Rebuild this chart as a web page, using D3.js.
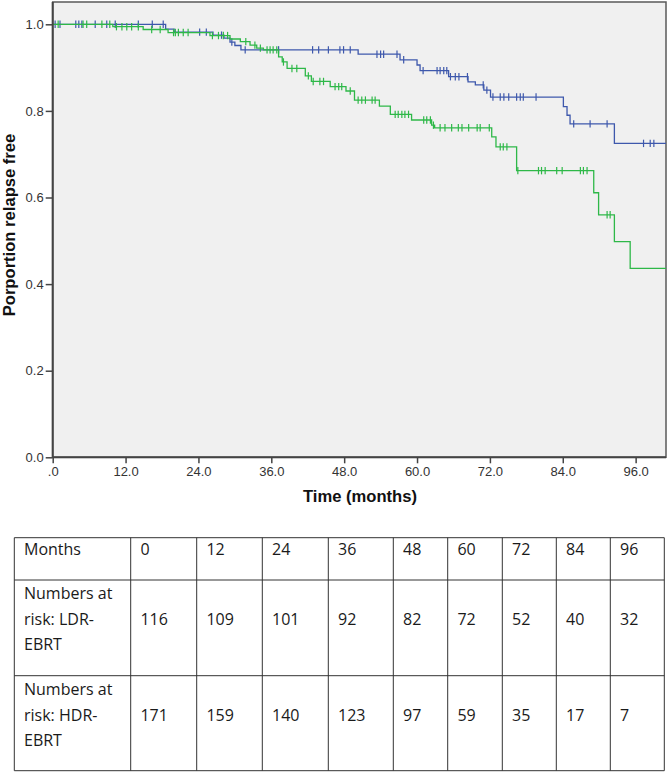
<!DOCTYPE html>
<html>
<head>
<meta charset="utf-8">
<script src="https://cdn.jsdelivr.net/npm/d3@7"></script>
<style>
  html, body { margin: 0; padding: 0; background: #fff; }
  svg { display: block; }
</style>
</head>
<body>
<div id="chart"></div>
<script>
// ---------------- DATA ----------------
// Kaplan-Meier step events (time in months, survival after the drop)
const ldrEventTimes = [18.6, 20.0, 26.4, 28.2, 29.2, 30.0, 31.0, 50.3, 57.2, 60.0, 60.5, 65.2, 68.4, 69.6, 71.0, 72.1, 84.1, 84.7, 85.2, 92.5];
const ldrEventSurv  = [0.989, 0.982, 0.975, 0.968, 0.959, 0.951, 0.941, 0.931, 0.918, 0.906, 0.893, 0.879, 0.867, 0.860, 0.848, 0.832, 0.810, 0.790, 0.770, 0.725];
const ldrCensored   = [0.4, 1.2, 3.8, 4.3, 4.8, 7.0, 8.9, 10.3, 14.1, 16.4, 18.2, 24.2, 25.3, 27.8, 29.5, 31.7,
                       37.2, 42.8, 43.8, 45.4, 47.3, 47.9, 49.0, 53.4, 54.0, 54.5, 56.7, 57.8,
                       61.0, 63.3, 63.8, 64.4, 64.9, 65.5, 66.3, 66.9, 68.3, 70.9, 71.5,
                       72.5, 73.7, 74.3, 75.1, 76.4, 77.0, 77.5, 79.6, 85.8, 88.5, 91.3, 97.3, 98.4, 99.0];

const hdrEventTimes = [9.9, 14.9, 19.0, 25.9, 29.2, 30.9, 32.5, 33.6, 34.7, 37.2, 37.8, 38.6, 41.6, 42.6, 45.7, 48.3, 49.7, 53.8, 55.6, 59.1, 62.4, 62.9, 72.3, 73.0, 76.4, 89.1, 89.9, 92.5, 95.1];
const hdrEventSurv  = [0.9945, 0.988, 0.981, 0.974, 0.966, 0.960, 0.952, 0.945, 0.941, 0.925, 0.913, 0.898, 0.881, 0.868, 0.856, 0.846, 0.825, 0.811, 0.792, 0.779, 0.767, 0.761, 0.740, 0.717, 0.662, 0.611, 0.560, 0.498, 0.4365];
const hdrCensored   = [0.9, 5.0, 5.6, 8.1, 9.4, 10.5, 11.4, 12.2, 13.0, 14.1, 16.3, 17.7, 19.9, 20.2, 20.7, 21.5, 22.3,
                       26.3, 27.3, 28.1, 28.8, 31.8, 33.3, 34.2, 35.3, 35.8, 36.3, 36.9, 38.0, 39.4, 40.2,
                       42.1, 42.9, 44.0, 44.6, 46.5, 47.1, 47.6, 49.0, 50.3, 50.9, 51.5, 52.6, 53.1,
                       56.4, 56.9, 57.5, 58.0, 58.6, 61.1, 61.6, 62.2, 62.7, 63.8, 64.6, 65.7, 66.8, 67.4, 68.5, 69.9, 70.4, 71.9,
                       73.7, 74.2, 74.8, 76.6, 80.0, 80.5, 81.1, 83.0, 83.9, 86.9, 87.4, 88.0, 91.3, 91.8];

const xTickValues = [0, 12, 24, 36, 48, 60, 72, 84, 96];
const yTickValues = [0, 0.2, 0.4, 0.6, 0.8, 1.0];
const xMax = 101;

const xTitle = "Time (months)";
const yTitle = "Porportion relapse free";

// At-risk table
const tableMonths = [0, 12, 24, 36, 48, 60, 72, 84, 96];
const ldrAtRisk = [116, 109, 101, 92, 82, 72, 52, 40, 32];
const hdrAtRisk = [171, 159, 140, 123, 97, 59, 35, 17, 7];
const rowHeaders = [["Months"], ["Numbers at", "risk: LDR-", "EBRT"], ["Numbers at", "risk: HDR-", "EBRT"]];

// ---------------- LAYOUT ----------------
const W = 669, H = 772;
const plot = { left: 52.7, right: 666, top: 2, bottom: 457.3, yOne: 24.3 };
const ldrColor = "#3E58AC", hdrColor = "#2EB848";

const svg = d3.select("#chart").append("svg").attr("width", W).attr("height", H);

const x = d3.scaleLinear().domain([0, xMax]).range([plot.left, plot.right]);
const y = d3.scaleLinear().domain([0, 1]).range([plot.bottom, plot.yOne]);

// plot background and frame
svg.append("rect")
  .attr("x", plot.left).attr("y", plot.top)
  .attr("width", plot.right - plot.left).attr("height", plot.bottom - plot.top)
  .attr("fill", "#F0F0F0").attr("stroke", "#5a5a5a").attr("stroke-width", 1.5);

// curves
function buildSteps(times, surv) {
  const pts = [[0, 1]];
  times.forEach((t, i) => pts.push([t, surv[i]]));
  pts.push([xMax, surv[surv.length - 1]]);
  return pts;
}
function survAt(times, surv, t) {
  let s = 1;
  for (let i = 0; i < times.length; i++) if (times[i] <= t) s = surv[i];
  return s;
}
const line = d3.line().x(d => x(d[0])).y(d => y(d[1])).curve(d3.curveStepAfter);

const groups = [
  { times: ldrEventTimes, surv: ldrEventSurv, cens: ldrCensored, color: ldrColor },
  { times: hdrEventTimes, surv: hdrEventSurv, cens: hdrCensored, color: hdrColor }
];
// draw HDR first then LDR on top? reference shows both; draw LDR first
groups.forEach(g => {
  const gg = svg.append("g");
  gg.append("path")
    .attr("d", line(buildSteps(g.times, g.surv)))
    .attr("fill", "none").attr("stroke", g.color).attr("stroke-width", 1.3);
  gg.selectAll("line.c").data(g.cens).join("line")
    .attr("class", "c")
    .attr("x1", d => x(d)).attr("x2", d => x(d))
    .attr("y1", d => y(survAt(g.times, g.surv, d)) - 3.7)
    .attr("y2", d => y(survAt(g.times, g.surv, d)) + 3.7)
    .attr("stroke", g.color).attr("stroke-width", 1.2);
});

// axes
const xAxis = d3.axisBottom(x).tickValues(xTickValues)
  .tickFormat(d => d === 0 ? ".0" : d3.format(".1f")(d)).tickSize(6).tickPadding(3);
const gx = svg.append("g").attr("transform", `translate(0,${plot.bottom})`).call(xAxis);
gx.select(".domain").attr("stroke", "#444").attr("stroke-width", 2)
  .attr("d", `M${plot.left},0H${plot.right}`);
gx.selectAll(".tick line").attr("stroke", "#444").attr("stroke-width", 1.5);
gx.selectAll(".tick text").attr("font-family", "Liberation Sans, Arial, sans-serif")
  .attr("font-size", 13).attr("fill", "#333");

const yAxis = d3.axisLeft(y).tickValues(yTickValues)
  .tickFormat(d3.format(".1f")).tickSize(7).tickPadding(2);
const gy = svg.append("g").attr("transform", `translate(${plot.left},0)`).call(yAxis);
gy.select(".domain").attr("stroke", "#444").attr("stroke-width", 2)
  .attr("d", `M0,${plot.top}V${plot.bottom}`);
gy.selectAll(".tick line").attr("stroke", "#444").attr("stroke-width", 1.5);
gy.selectAll(".tick text").attr("font-family", "Liberation Sans, Arial, sans-serif")
  .attr("font-size", 13).attr("fill", "#333");

// axis titles
svg.append("text")
  .attr("x", 360).attr("y", 502)
  .attr("text-anchor", "middle")
  .attr("font-family", "Liberation Sans, Arial, sans-serif")
  .attr("font-weight", "bold").attr("font-size", 16.6).attr("fill", "#111")
  .text(xTitle);
svg.append("text")
  .attr("transform", "translate(15,225) rotate(-90)")
  .attr("text-anchor", "middle")
  .attr("font-family", "Liberation Sans, Arial, sans-serif")
  .attr("font-weight", "bold").attr("font-size", 16.6).attr("fill", "#111")
  .text(yTitle);

// ---------------- TABLE ----------------
const colEdges = [14.3, 130.7, 196.7, 262.3, 328.3, 393.3, 447.7, 502.3, 556.3, 610.3, 664.3];
const rowEdges = [537.7, 580, 675.7, 770.7];
const tbl = svg.append("g");
const tableRows = [tableMonths, ldrAtRisk, hdrAtRisk];
const lineGap = 25.5;
const rowFirstBaseline = [555, 599.3, 695];
const rowValueBaseline = [555, 625, 720.5];

// cell borders
rowEdges.forEach(yy => tbl.append("line")
  .attr("x1", colEdges[0]).attr("x2", colEdges[colEdges.length - 1])
  .attr("y1", yy).attr("y2", yy).attr("stroke", "#333").attr("stroke-width", 1));
colEdges.forEach(xx => tbl.append("line")
  .attr("x1", xx).attr("x2", xx)
  .attr("y1", rowEdges[0]).attr("y2", rowEdges[rowEdges.length - 1])
  .attr("stroke", "#333").attr("stroke-width", 1));

const fontT = "'Open Sans', 'Noto Sans', sans-serif";
rowHeaders.forEach((lines, r) => {
  lines.forEach((ln, i) => {
    tbl.append("text")
      .attr("x", colEdges[0] + 9.7).attr("y", rowFirstBaseline[r] + i * lineGap)
      .attr("font-family", fontT).attr("font-size", 16).attr("fill", "#1a1a1a")
      .text(ln);
  });
});
tableRows.forEach((vals, r) => {
  tbl.selectAll(null).data(vals).join("text")
    .attr("x", (d, i) => colEdges[i + 1] + 9.7)
    .attr("y", rowValueBaseline[r])
    .attr("font-family", fontT).attr("font-size", 16).attr("fill", "#1a1a1a")
    .text(d => d);
});
</script>
</body>
</html>
